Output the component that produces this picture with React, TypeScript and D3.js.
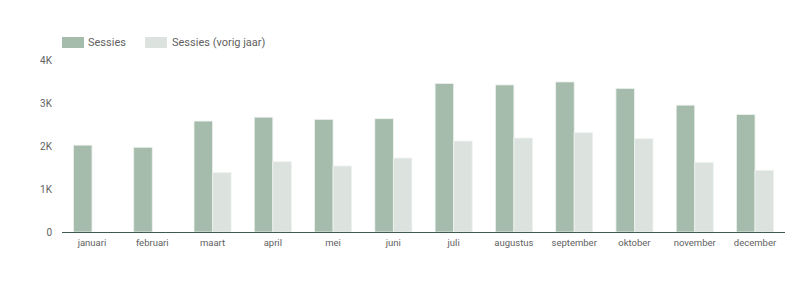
import React from "react";
import * as d3 from "d3";

const months = ["januari","februari","maart","april","mei","juni","juli","augustus","september","oktober","november","december"];
const sessies = [2020, 1970, 2580, 2670, 2620, 2635, 3455, 3420, 3490, 3340, 2950, 2730];
const sessiesVorig: (number | null)[] = [null, null, 1380, 1635, 1535, 1720, 2115, 2185, 2310, 2170, 1620, 1435];
const yTicks = [0, 1000, 2000, 3000, 4000];
const yTickLabels = ["0", "1K", "2K", "3K", "4K"];
const seriesNames = ["Sessies", "Sessies (vorig jaar)"];

const W = 809, H = 283;
const left = 62, right = 785, top = 60, bottom = 232;
const colors = ["#a5bcac", "#dce3df"];
const textColor = "#616161";

export default function App() {
  const x0 = d3.scaleBand<string>().domain(months).range([left, right]).paddingInner(0.385).paddingOuter(0.19);
  const x1 = d3.scaleBand<string>().domain(["a", "b"]).range([0, x0.bandwidth()]);
  const y = d3.scaleLinear().domain([0, 4000]).range([bottom, top]);
  const series = [sessies, sessiesVorig];
  return (
    <svg width={W} height={H} style={{ position: "absolute", left: 0, top: 0, fontFamily: "Roboto, sans-serif" }}>
      <rect width={W} height={H} fill="#fff" />
      {/* legend */}
      <g>
        <rect x={62} y={37} width={22} height={11} fill={colors[0]} />
        <text x={88} y={46} fontSize={11} fill={textColor}>{seriesNames[0]}</text>
        <rect x={145} y={37} width={22} height={11} fill={colors[1]} />
        <text x={172} y={46} fontSize={11} fill={textColor}>{seriesNames[1]}</text>
      </g>
      {yTicks.map((t, i) => (
        <text key={t} x={52} y={y(t)} dy="0.35em" textAnchor="end" fontSize={10} fill={textColor}>{yTickLabels[i]}</text>
      ))}
      {months.map((m, i) => (
        <g key={m} transform={`translate(${x0(m)},0)`}>
          {series.map((s, j) => {
            const v = s[i];
            if (v == null) return null;
            return (
              <rect key={j} x={x1(j === 0 ? "a" : "b")!} y={y(v)} width={x1.bandwidth()} height={bottom - y(v)}
                fill={colors[j]} stroke="#eef2ef" strokeWidth={0.8} />
            );
          })}
          <text x={x0.bandwidth() / 2} y={246} textAnchor="middle" fontSize={9.5} fill={textColor}>{m}</text>
        </g>
      ))}
      <line x1={left} x2={right} y1={bottom + 0.5} y2={bottom + 0.5} stroke="#3f5a50" strokeWidth={1} />
    </svg>
  );
}
